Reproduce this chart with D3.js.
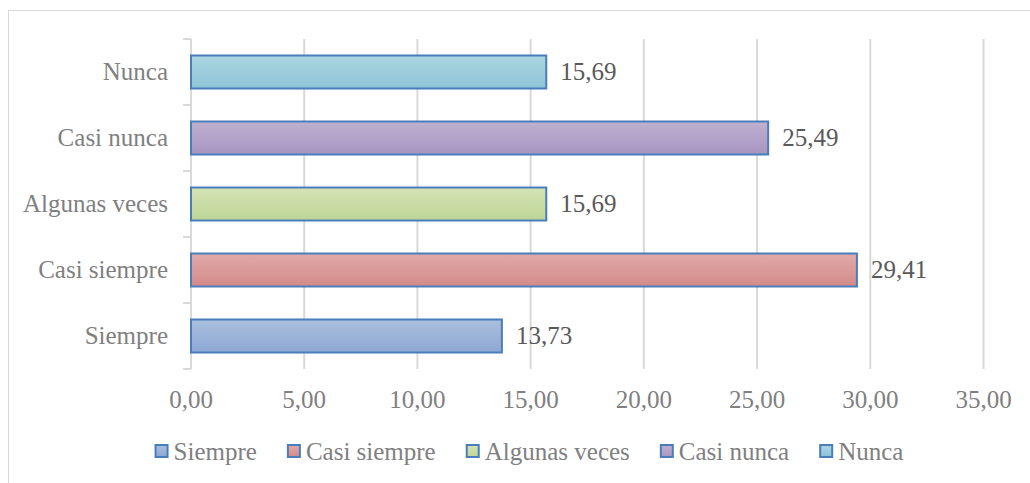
<!DOCTYPE html>
<html>
<head>
<meta charset="utf-8">
<script src="https://cdn.jsdelivr.net/npm/d3@7"></script>
<style>
    body { margin: 0; background: #fff; }
    text { font-family: "Liberation Serif", "DejaVu Serif", serif; }
    .tickLabel { fill: #7f7f7f; font-size: 25px; }
    .catLabel { fill: #7f7f7f; font-size: 25px; }
    .valueLabel { fill: #595959; font-size: 25px; }
    .legendLabel { fill: #7f7f7f; font-size: 25px; }
</style>
</head>
<body>
<div id="chart"></div>
<script>
//Chart data
const categories = ["Siempre", "Casi siempre", "Algunas veces", "Casi nunca", "Nunca"];
const values = [13.73, 29.41, 15.69, 25.49, 15.69];
const xTicks = [0, 5, 10, 15, 20, 25, 30, 35];

//fills for each bar: top and bottom of the gradient
const topColors = ["#aabfde", "#e0aaa9", "#d5e3b4", "#bfb0d1", "#abd6e2"];
const bottomColors = ["#8ea8d4", "#d48a89", "#bed596", "#a795c1", "#8dc4d6"];

const width = 1030;
const height = 483;
const margin = { top: 39, left: 191, right: 46, bottom: 114 };

const svg = d3.select("#chart")
    .append("svg")
    .attr("width", width)
    .attr("height", height);

//chart border
svg.append("rect")
    .attr("x", 8.5)
    .attr("y", 10.5)
    .attr("width", 1040)
    .attr("height", 500)
    .attr("fill", "none")
    .attr("stroke", "#d9d9d9")
    .attr("stroke-width", 1);

//gradients
const defs = svg.append("defs");
categories.forEach((c, i) => {
    const g = defs.append("linearGradient")
        .attr("id", "grad" + i)
        .attr("x1", 0).attr("y1", 0)
        .attr("x2", 0).attr("y2", 1);
    g.append("stop").attr("offset", "0%").attr("stop-color", topColors[i]);
    g.append("stop").attr("offset", "100%").attr("stop-color", bottomColors[i]);
});

//scales
const xScale = d3.scaleLinear()
    .domain([0, 35])
    .range([margin.left, width - margin.right - 0.5]);

const yScale = d3.scaleBand()
    .domain(categories.slice().reverse())
    .range([margin.top, height - margin.bottom])
    .paddingInner(0.5)
    .paddingOuter(0.25);

const plotTop = margin.top;
const plotBottom = height - margin.bottom;

//gridlines
svg.append("g")
    .selectAll("line")
    .data(xTicks.slice(1))
    .enter()
    .append("line")
    .attr("x1", d => xScale(d))
    .attr("x2", d => xScale(d))
    .attr("y1", plotTop)
    .attr("y2", plotBottom)
    .attr("stroke", "#d9d9d9")
    .attr("stroke-width", 2);

//x tick labels
svg.append("g")
    .selectAll("text")
    .data(xTicks)
    .enter()
    .append("text")
    .attr("class", "tickLabel")
    .attr("x", d => xScale(d))
    .attr("y", 408)
    .attr("text-anchor", "middle")
    .text(d => d3.format(".2f")(d).replace(".", ","));

//y axis line and ticks
svg.append("line")
    .attr("x1", margin.left)
    .attr("x2", margin.left)
    .attr("y1", plotTop)
    .attr("y2", plotBottom)
    .attr("stroke", "#d9d9d9")
    .attr("stroke-width", 2);

const boundaries = d3.range(categories.length + 1).map(i => plotTop + i * (plotBottom - plotTop) / categories.length);
svg.append("g")
    .selectAll("line")
    .data(boundaries)
    .enter()
    .append("line")
    .attr("x1", margin.left - 8)
    .attr("x2", margin.left)
    .attr("y1", d => d)
    .attr("y2", d => d)
    .attr("stroke", "#d9d9d9")
    .attr("stroke-width", 2);

//category labels
svg.append("g")
    .selectAll("text")
    .data(categories)
    .enter()
    .append("text")
    .attr("class", "catLabel")
    .attr("x", margin.left - 23)
    .attr("y", d => yScale(d) + yScale.bandwidth() / 2)
    .attr("dy", "0.33em")
    .attr("text-anchor", "end")
    .text(d => d);

//bars
svg.append("g")
    .selectAll("rect")
    .data(categories)
    .enter()
    .append("rect")
    .attr("x", xScale(0))
    .attr("y", d => yScale(d))
    .attr("width", (d, i) => xScale(values[i]) - xScale(0))
    .attr("height", yScale.bandwidth())
    .attr("fill", (d, i) => "url(#grad" + i + ")")
    .attr("stroke", "#4a7ebb")
    .attr("stroke-width", 2);

//value labels
svg.append("g")
    .selectAll("text")
    .data(categories)
    .enter()
    .append("text")
    .attr("class", "valueLabel")
    .attr("x", (d, i) => xScale(values[i]) + 14)
    .attr("y", d => yScale(d) + yScale.bandwidth() / 2)
    .attr("dy", "0.33em")
    .text((d, i) => d3.format(".2f")(values[i]).replace(".", ","));

//legend
const legend = svg.append("g");
let lx = 0;
categories.forEach((c, i) => {
    const item = legend.append("g").attr("transform", `translate(${lx},0)`);
    item.append("rect")
        .attr("x", 1)
        .attr("y", -7)
        .attr("width", 12)
        .attr("height", 12)
        .attr("fill", "url(#grad" + i + ")")
        .attr("stroke", "#4a7ebb")
        .attr("stroke-width", 2);
    const t = item.append("text")
        .attr("class", "legendLabel")
        .attr("x", 19)
        .attr("y", 0)
        .attr("dy", "0.33em")
        .text(c);
    lx += 19 + t.node().getComputedTextLength() + 30;
});
const legendWidth = lx - 30;
legend.attr("transform", `translate(${529 - legendWidth / 2},452)`);
</script>
</body>
</html>
